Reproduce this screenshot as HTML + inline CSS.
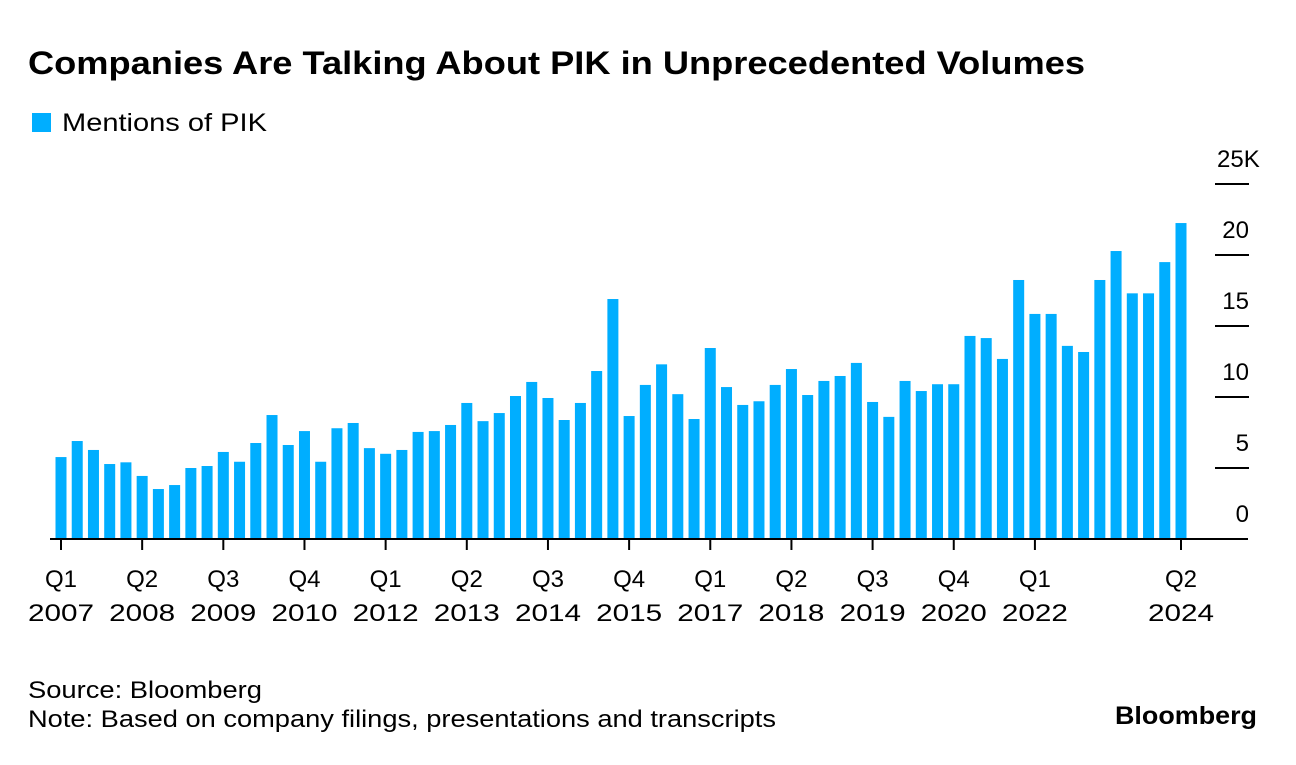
<!DOCTYPE html>
<html><head><meta charset="utf-8"><style>
body{margin:0;background:#fff;font-family:"Liberation Sans",sans-serif;}
svg text{font-family:"Liberation Sans",sans-serif;fill:#000;}
</style></head><body>
<svg width="1296" height="760" viewBox="0 0 1296 760">
<text x="28" y="74" font-size="32" font-weight="bold" textLength="1057" lengthAdjust="spacingAndGlyphs">Companies Are Talking About PIK in Unprecedented Volumes</text>
<rect x="32" y="113" width="19" height="19" fill="#00aeff"/>
<text x="62" y="131" font-size="25" textLength="205" lengthAdjust="spacingAndGlyphs">Mentions of PIK</text>
<g id="plot"></g>
<text x="28" y="698" font-size="24" textLength="234" lengthAdjust="spacingAndGlyphs">Source: Bloomberg</text>
<text x="28" y="727" font-size="24" textLength="748" lengthAdjust="spacingAndGlyphs">Note: Based on company filings, presentations and transcripts</text>
<text x="1115" y="724" font-size="25" font-weight="bold" textLength="142" lengthAdjust="spacingAndGlyphs">Bloomberg</text>
</svg>
<script>
const values=[5.77,6.9,6.27,5.28,5.4,4.44,3.52,3.8,5.0,5.14,6.13,5.44,6.76,8.73,6.62,7.6,5.44,7.8,8.17,6.4,6.0,6.27,7.54,7.6,8.03,9.58,8.3,8.87,10.07,11.06,9.93,8.38,9.58,11.83,16.9,8.66,10.85,12.3,10.2,8.45,13.45,10.7,9.44,9.7,10.85,11.97,10.14,11.13,11.48,12.4,9.65,8.6,11.13,10.42,10.9,10.9,14.3,14.15,12.68,18.24,15.85,15.85,13.6,13.17,18.24,20.28,17.3,17.3,19.5,22.25];
const tickIdx=[0,5,10,15,20,25,30,35,40,45,50,55,60,69];
const tickQ=["Q1","Q2","Q3","Q4","Q1","Q2","Q3","Q4","Q1","Q2","Q3","Q4","Q1","Q2"];
const tickY=["2007","2008","2009","2010","2012","2013","2014","2015","2017","2018","2019","2020","2022","2024"];
const yTicks=[0,5,10,15,20,25];
const yLabels=["0","5","10","15","20","25K"];
const NS="http://www.w3.org/2000/svg";
const g=document.getElementById('plot');
const x=i=>61+i*(1120/69);
const y=v=>539-v*14.2;
function mk(t,a){const e=document.createElementNS(NS,t);for(const k in a)e.setAttribute(k,a[k]);g.appendChild(e);return e;}
values.forEach((v,i)=>{const r=mk('rect',{x:x(i)-5.5,y:y(v),width:11,height:539-y(v),fill:'#00aeff'});

});
yTicks.forEach((t,i)=>{
 if(t>0){const l=mk('line',{x1:1215,x2:1249,y1:y(t),y2:y(t),stroke:'#000','stroke-width':2});
 
 }
 const last=i===yTicks.length-1;
 const tx=mk('text',last?{x:1217,y:y(t)-17,'font-size':24}:{x:1249,y:y(t)-17,'font-size':24,'text-anchor':'end'});tx.textContent=yLabels[i];
 
 
});
const ax=mk('line',{x1:50,x2:1248,y1:539,y2:539,stroke:'#000','stroke-width':2});


tickIdx.forEach((ti,k)=>{
 const l=mk('line',{x1:x(ti),x2:x(ti),y1:539,y2:550,stroke:'#000','stroke-width':2});
 
 
 const a=mk('text',{x:x(ti),y:587,'font-size':24,'text-anchor':'middle'});a.textContent=tickQ[k];
 
 
 const b=mk('text',{x:x(ti),y:621,'font-size':24,'text-anchor':'middle',textLength:66,lengthAdjust:'spacingAndGlyphs'});b.textContent=tickY[k];
 
 
});
</script>
</body></html>
